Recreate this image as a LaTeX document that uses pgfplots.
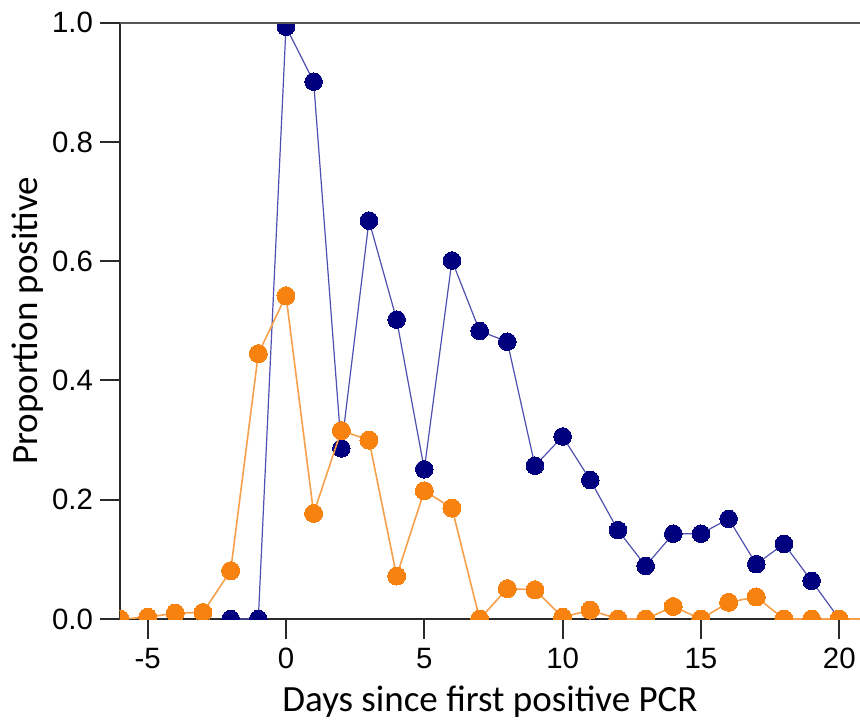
\documentclass[border=0pt]{standalone}
\usepackage{fontspec}
\setmainfont{Carlito}
\newfontfamily\arialf{Liberation Sans}
\usepackage{pgfplots}
\pgfplotsset{compat=1.18}
\definecolor{navy}{HTML}{00007F}
\definecolor{navyline}{HTML}{4F4FB0}
\definecolor{orng}{HTML}{F8820F}
\definecolor{orngline}{HTML}{F7A04C}
\definecolor{spine}{HTML}{2A2A2A}

\begin{document}
\begin{tikzpicture}
\begin{axis}[
    width=370pt, height=298.2pt,
    scale only axis,
    at={(0pt,0pt)}, anchor=south west,
    xmin=-6, xmax=20.75, ymin=0, ymax=1,
    axis x line*=bottom, axis y line*=left,
    axis line style={spine, line width=1pt},
    tick align=outside,
    major tick length=10pt,
    tick style={spine, line width=1pt},
    xtick={-5,0,5,10,15,20},
    ytick={0,0.2,0.4,0.6,0.8,1.0},
    /pgf/number format/assume math mode=true,
    tick label style={font=\arialf\fontsize{14.7}{17}\selectfont, text=black},
    xticklabel style={yshift=-1pt},
    yticklabel style={/pgf/number format/.cd, fixed, fixed zerofill, precision=1},
    xlabel={Days since first positive PCR},
    ylabel={Proportion positive},
    every axis x label/.style={at={(axis description cs:0.5,0)}, anchor=base,
        yshift=-46pt, font=\fontsize{18.5}{22}\selectfont},
    every axis y label/.style={at={(axis description cs:0,0.5)}, rotate=90,
        anchor=north, yshift=54pt, inner sep=0pt, font=\fontsize{18.5}{22}\selectfont},
    clip marker paths=true,
  ]
  % the navy series
  \addplot[navyline, line width=0.6pt, mark=*, mark size=4.4pt,
           mark options={draw=navy, fill=navy, line width=0pt}] coordinates {
    (-2,0) (-1,0) (0,0.993) (1,0.901) (2,0.286) (3,0.668) (4,0.502)
    (5,0.251) (6,0.601) (7,0.483) (8,0.465) (9,0.257) (10,0.306)
    (11,0.233) (12,0.149) (13,0.089) (14,0.143) (15,0.143) (16,0.168)
    (17,0.092) (18,0.126) (19,0.064) (20,0)
  };
  % the orange series, drawn on top
  \addplot[orngline, line width=0.8pt, mark=*, mark size=4.5pt,
           mark options={draw=orng, fill=orng, line width=0pt}] coordinates {
    (-6,0) (-5,0.003) (-4,0.010) (-3,0.011) (-2,0.081) (-1,0.445)
    (0,0.542) (1,0.177) (2,0.316) (3,0.300) (4,0.072) (5,0.215)
    (6,0.186) (7,0) (8,0.051) (9,0.049) (10,0.003) (11,0.015) (12,0)
    (13,0) (14,0.021) (15,0) (16,0.028) (17,0.037) (18,0) (19,0)
    (20,0) (21,0)
  };
  % top border of the frame
  \draw[spine!80, line width=1pt] (rel axis cs:0,1) -- (rel axis cs:1,1);
\end{axis}
\pgfresetboundingbox
\path[use as bounding box] (-60pt,-53pt) rectangle (370pt,309.5pt);
\end{tikzpicture}
\end{document}
